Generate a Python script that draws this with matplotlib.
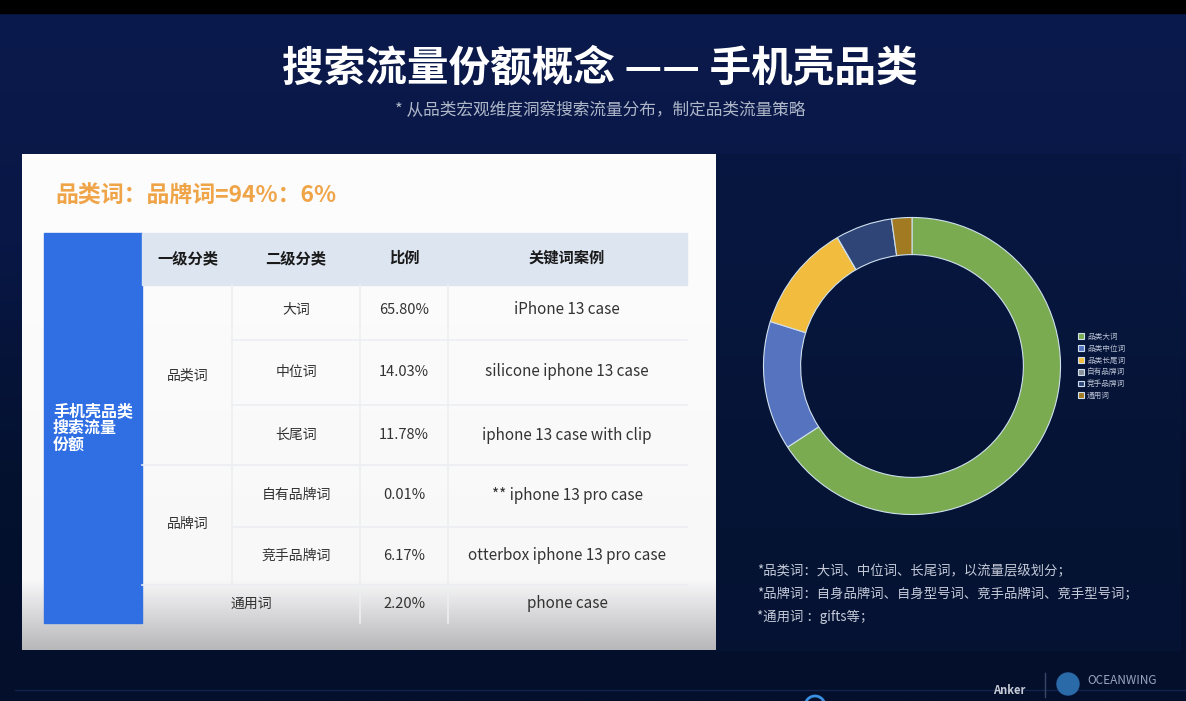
import numpy as np
import matplotlib
matplotlib.use("Agg")
import matplotlib.pyplot as plt
from matplotlib.patches import Rectangle, Circle
from matplotlib.colors import LinearSegmentedColormap

plt.rcParams['font.family'] = ['Noto Sans CJK SC', 'DejaVu Sans']

# ---------------- data ----------------
title = "搜索流量份额概念 —— 手机壳品类"
subtitle = "* 从品类宏观维度洞察搜索流量分布，制定品类流量策略"
headline = "品类词：品牌词=94%：6%"
header_cols = ["一级分类", "二级分类", "比例", "关键词案例"]
level1 = ["品类词", "品牌词"]
level2 = ["大词", "中位词", "长尾词", "自有品牌词", "竞手品牌词", "通用词"]
shares = [65.80, 14.03, 11.78, 0.01, 6.17, 2.20]
share_labels = ["65.80%", "14.03%", "11.78%", "0.01%", "6.17%", "2.20%"]
keywords = ["iPhone 13 case", "silicone iphone 13 case", "iphone 13 case with clip",
            "** iphone 13 pro case", "otterbox iphone 13 pro case", "phone case"]
legend_labels = ["品类大词", "品类中位词", "品类长尾词", "自有品牌词", "竞手品牌词", "通用词"]
slice_colors = ["#7aab50", "#5673c0", "#f2bd3e", "#8a8f9a", "#2f4577", "#a27a22"]
side_title = "手机壳品类\n搜索流量\n份额"
notes = ["*品类词：大词、中位词、长尾词，以流量层级划分；",
         "*品牌词：自身品牌词、自身型号词、竞手品牌词、竞手型号词；",
         "*通用词 ：gifts等；"]

W, H = 1186, 701
fig = plt.figure(figsize=(W / 100, H / 100), dpi=100)
ax = fig.add_axes([0, 0, 1, 1])
ax.set_xlim(0, W)
ax.set_ylim(H, 0)
ax.axis('off')

# background gradient
bg = LinearSegmentedColormap.from_list("bg", ["#0b1a4c", "#081745", "#04112f", "#030f2b"])
grad = np.linspace(0, 1, 256).reshape(-1, 1)
ax.imshow(grad, cmap=bg, extent=[0, W, H, 13], aspect='auto', zorder=0)
ax.add_patch(Rectangle((0, 0), W, 13, color="#000000", zorder=1))
# right panel slightly darker
ax.add_patch(Rectangle((716, 154), 464, 496, color="#07163a", alpha=0.5, zorder=1))
# bottom faint line
ax.plot([15, W], [690, 690], color="#14234a", lw=1, zorder=1)

# title
ax.text(600, 68, title, color="white", fontsize=30, fontweight="bold",
        ha="center", va="center", zorder=3)
ax.text(600, 111, subtitle, color="#aeb6c8", fontsize=12, ha="center", va="center", zorder=3)

# white panel with gray gradient at bottom
panel = LinearSegmentedColormap.from_list("pn", [(0, "#fdfdfe"), (0.86, "#f8f8f9"), (0.93, "#d8d8da"), (1, "#b8b8ba")])
ax.imshow(grad, cmap=panel, extent=[22, 716, 650, 154], aspect='auto', zorder=2)

ax.text(55, 196, headline, color="#efa448", fontsize=16.5, fontweight="bold",
        ha="left", va="center", zorder=3)

# table
tx0, tx1 = 142, 687
ax.add_patch(Rectangle((44, 233), 98, 390, color="#2f6fe3", zorder=3))
ax.text(53, 428, side_title, color="white", fontsize=11.5, fontweight="bold",
        ha="left", va="center", linespacing=1.1, zorder=4)
ax.add_patch(Rectangle((tx0, 233), tx1 - tx0, 52, color="#dde5f1", zorder=3))
hdr_x = [188, 296, 404, 567]
for x, t in zip(hdr_x, header_cols):
    ax.text(x, 258, t, color="#1a1a1a", fontsize=11, fontweight="bold",
            ha="center", va="center", zorder=4)

row_y = [310, 372, 435, 495, 556, 604]
row_bounds = [285, 340, 405, 465, 527, 585, 623]
line_c = "#eceef2"
for yb in row_bounds[1:-1]:
    x_start = 232 if yb in (340, 405, 527) else tx0
    ax.plot([x_start, tx1], [yb, yb], color=line_c, lw=1.2, zorder=3)
for xv in [232, 360, 448]:
    ax.plot([xv, xv], [285, 585], color=line_c, lw=1.2, zorder=3)
ax.plot([360, 360], [585, 623], color=line_c, lw=1.2, zorder=3)
ax.plot([448, 448], [585, 623], color=line_c, lw=1.2, zorder=3)

body = dict(color="#333333", ha="center", va="center", zorder=4)
ax.text(188, 375, level1[0], fontsize=10, **body)
ax.text(188, 524, level1[1], fontsize=10, **body)
for i in range(6):
    x2 = 296 if i < 5 else 251
    ax.text(x2, row_y[i], level2[i], fontsize=10, **body)
    ax.text(404, row_y[i], share_labels[i], fontsize=10.5, **body)
    ax.text(567, row_y[i], keywords[i], fontsize=11, **body)

# donut
cx, cy, r = 912, 366, 150
dax = fig.add_axes([(cx - r) / W, (H - cy - r) / H, 2 * r / W, 2 * r / H])
wedges, _ = dax.pie(shares, colors=slice_colors, startangle=90, counterclock=False,
                    wedgeprops=dict(width=0.25, edgecolor="#cfe0ee", linewidth=0.8))
dax.set_xlim(-1.01, 1.01)
dax.set_ylim(-1.01, 1.01)
dax.axis('off')

fig.legend(wedges, legend_labels, loc="upper left",
           bbox_to_anchor=(1074 / W, 1 - 329 / H), frameon=False, fontsize=5.5,
           labelcolor="#b8c0d2", handlelength=0.8, handleheight=0.8, handletextpad=0.4,
           labelspacing=0.5, borderpad=0)

for i, t in enumerate(notes):
    ax.text(757, 571 + 23 * i, t, color="#c4cad8", fontsize=9.6, ha="left", va="center", zorder=3)

# logos
ax.text(993, 690, "Anker", color="#c8ccd6", fontsize=8, fontweight="bold", ha="left", va="center", zorder=3)
ax.plot([1045, 1045], [673, 697], color="#3a4668", lw=1, zorder=3)
ax.add_patch(Circle((1068, 684), 11, color="#2b6aa8", zorder=3))
ax.text(1087, 680, "OCEANWING", color="#9aa6bf", fontsize=8.5, ha="left", va="center", zorder=3)
ax.add_patch(Circle((815, 706), 10, fill=False, ec="#3a8fe0", lw=2, zorder=3))

fig.savefig("out.png", dpi=100)
